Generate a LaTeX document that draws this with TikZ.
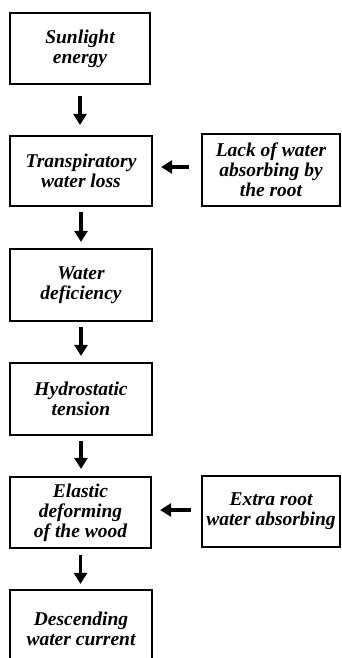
\documentclass[tikz,border=0pt]{standalone}
\usepackage{fontspec}
\setmainfont{Liberation Serif}
\usetikzlibrary{arrows.meta}
\begin{document}
\begin{tikzpicture}[x=1pt,y=-1pt,
  box/.style={draw=black, line width=2.2pt, fill=white, align=center,
    font=\fontsize{19.5}{20}\selectfont\bfseries\itshape, inner sep=0pt},
  arr/.style={line width=3.4pt, -{Triangle[length=11pt,width=13pt]}}]
\useasboundingbox (0,0) rectangle (342,658);
\clip (0,0) rectangle (342,658);
\fill[white] (0,0) rectangle (342,658);
\node[box, minimum width=140pt, minimum height=71pt] (b1) at (80,48.5) {Sunlight\\energy};
\node[box, minimum width=142pt, minimum height=70pt] (b2) at (81,171) {Transpiratory\\water loss};
\node[box, minimum width=138pt, minimum height=72pt] (r1) at (271,170) {Lack of water\\absorbing by\\the root};
\node[box, minimum width=142pt, minimum height=72pt] (b3) at (81,285) {Water\\deficiency};
\node[box, minimum width=142pt, minimum height=72pt] (b4) at (81,399) {Hydrostatic\\tension};
\node[box, minimum width=141pt, minimum height=71pt] (b5) at (80.5,512.5) {Elastic\\deforming\\of the wood};
\node[box, minimum width=138pt, minimum height=71pt] (r2) at (271,511.5) {Extra root\\water absorbing};
\node[box, minimum width=142pt, minimum height=78pt] (b6) at (81,629) {Descending\\water current};
\draw[arr, shorten <=11pt, shorten >=10pt] (b1.south) -- (b1.south |- b2.north);
\draw[arr, shorten <=5pt, shorten >=6pt] (b2.south) -- (b2.south |- b3.north);
\draw[arr, shorten <=5pt, shorten >=6pt] (b3.south) -- (b3.south |- b4.north);
\draw[arr, shorten <=5pt, shorten >=7pt] (b4.south) -- (b4.south |- b5.north);
\draw[arr, shorten <=6pt, shorten >=5pt] (b5.south) -- (b5.south |- b6.north);
\draw[arr, shorten <=12pt, shorten >=8pt] (r1.west |- 0,167) -- (b2.east |- 0,167);
\draw[arr, shorten <=10pt, shorten >=8pt] (r2.west |- 0,510) -- (b5.east |- 0,510);
\end{tikzpicture}
\end{document}
